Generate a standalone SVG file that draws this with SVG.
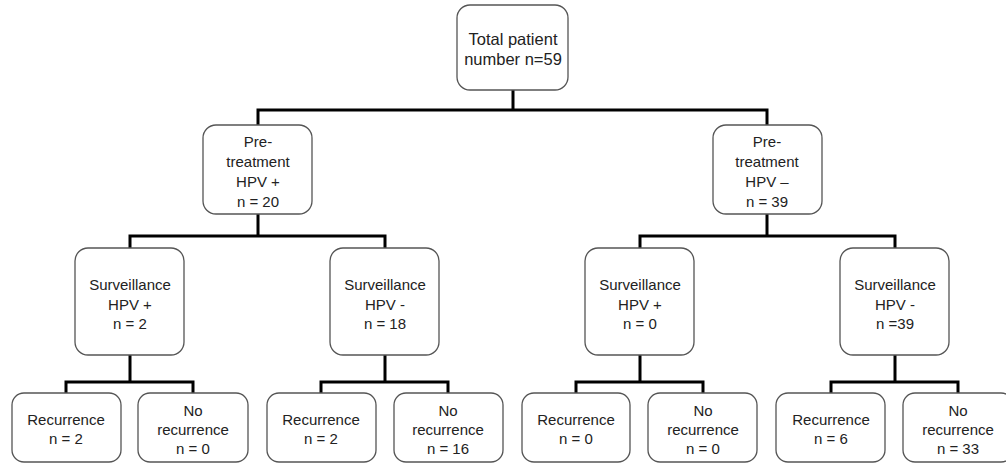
<svg xmlns="http://www.w3.org/2000/svg" width="1006" height="466" viewBox="0 0 1006 466">
<style>
.box{fill:#fff;stroke:#555;stroke-width:1.3}
.t{font-family:"Liberation Sans",Arial,sans-serif;font-size:15px;fill:#222;text-anchor:middle}
.big{font-size:16.5px}
.c{fill:none;stroke:#000;stroke-width:3;stroke-linecap:square}
</style>
<rect width="1006" height="466" fill="#fff"/>
<g id="connectors">
<path class="c" d="M513 90V110M258 110H767M258 110V125M767 110V125"/>
<path class="c" d="M258 214V236M130 236H385M130 236V248M385 236V248"/>
<path class="c" d="M767 214V236M640 236H895M640 236V248M895 236V248"/>
<path class="c" d="M130 355V382M66 382H193M66 382V393M193 382V393"/>
<path class="c" d="M385 355V382M321 382H448M321 382V393M448 382V393"/>
<path class="c" d="M640 355V382M576 382H703M576 382V393M703 382V393"/>
<path class="c" d="M895 355V382M831 382H958M831 382V393M958 382V393"/>
</g>
<g id="n-total"><rect class="box" x="457" y="5" width="111" height="85" rx="13"/>
<text class="t big" x="513" y="45">Total patient</text><text class="t big" x="513" y="65">number n=59</text></g>
<g id="n-pre-pos"><rect class="box" x="203" y="125" width="109" height="89" rx="13"/>
<text class="t" x="258" y="147">Pre-</text><text class="t" x="258" y="167">treatment</text><text class="t" x="258" y="187">HPV +</text><text class="t" x="258" y="207">n = 20</text></g>
<g id="n-pre-neg"><rect class="box" x="713" y="125" width="109" height="89" rx="13"/>
<text class="t" x="767" y="147">Pre-</text><text class="t" x="767" y="167">treatment</text><text class="t" x="767" y="187">HPV –</text><text class="t" x="767" y="207">n = 39</text></g>
<g id="n-s1"><rect class="box" x="75" y="248" width="109" height="107" rx="13"/>
<text class="t" x="130" y="290">Surveillance</text><text class="t" x="130" y="310">HPV +</text><text class="t" x="130" y="329">n = 2</text></g>
<g id="n-s2"><rect class="box" x="330" y="248" width="109" height="107" rx="13"/>
<text class="t" x="385" y="290">Surveillance</text><text class="t" x="385" y="310">HPV -</text><text class="t" x="385" y="329">n = 18</text></g>
<g id="n-s3"><rect class="box" x="585" y="248" width="109" height="107" rx="13"/>
<text class="t" x="640" y="290">Surveillance</text><text class="t" x="640" y="310">HPV +</text><text class="t" x="640" y="329">n = 0</text></g>
<g id="n-s4"><rect class="box" x="840" y="248" width="109" height="107" rx="13"/>
<text class="t" x="895" y="290">Surveillance</text><text class="t" x="895" y="310">HPV -</text><text class="t" x="895" y="329">n =39</text></g>
<g id="n-l1"><rect class="box" x="12" y="393" width="109" height="69" rx="12"/>
<text class="t" x="66" y="425">Recurrence</text><text class="t" x="66" y="444">n = 2</text></g>
<g id="n-l2"><rect class="box" x="138" y="393" width="110" height="69" rx="12"/>
<text class="t" x="193" y="416">No</text><text class="t" x="193" y="435">recurrence</text><text class="t" x="193" y="454">n = 0</text></g>
<g id="n-l3"><rect class="box" x="267" y="393" width="109" height="69" rx="12"/>
<text class="t" x="321" y="425">Recurrence</text><text class="t" x="321" y="444">n = 2</text></g>
<g id="n-l4"><rect class="box" x="394" y="393" width="109" height="69" rx="12"/>
<text class="t" x="448" y="416">No</text><text class="t" x="448" y="435">recurrence</text><text class="t" x="448" y="454">n = 16</text></g>
<g id="n-l5"><rect class="box" x="522" y="393" width="108" height="69" rx="12"/>
<text class="t" x="576" y="425">Recurrence</text><text class="t" x="576" y="444">n = 0</text></g>
<g id="n-l6"><rect class="box" x="648" y="393" width="109" height="69" rx="12"/>
<text class="t" x="703" y="416">No</text><text class="t" x="703" y="435">recurrence</text><text class="t" x="703" y="454">n = 0</text></g>
<g id="n-l7"><rect class="box" x="776" y="393" width="109" height="69" rx="12"/>
<text class="t" x="831" y="425">Recurrence</text><text class="t" x="831" y="444">n = 6</text></g>
<g id="n-l8"><rect class="box" x="903" y="393" width="110" height="69" rx="12"/>
<text class="t" x="958" y="416">No</text><text class="t" x="958" y="435">recurrence</text><text class="t" x="958" y="454">n = 33</text></g>
</svg>
